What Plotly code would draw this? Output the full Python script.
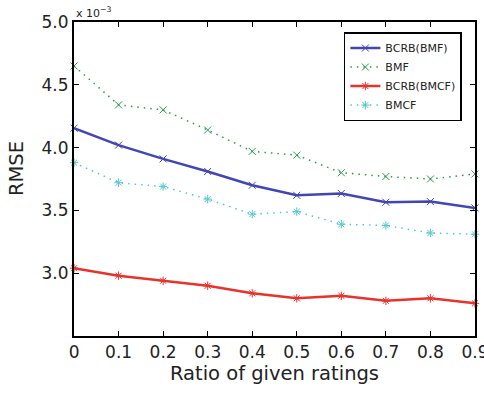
import plotly.graph_objects as go

ratios = [0, 0.1, 0.2, 0.3, 0.4, 0.5, 0.6, 0.7, 0.8, 0.9]
x_labels = ["0", "0.1", "0.2", "0.3", "0.4", "0.5", "0.6", "0.7", "0.8", "0.9"]
bcrb_bmf = [4.155, 4.02, 3.91, 3.81, 3.70, 3.62, 3.635, 3.565, 3.57, 3.52]
bmf = [4.65, 4.34, 4.30, 4.14, 3.97, 3.94, 3.80, 3.77, 3.75, 3.79]
bcrb_bmcf = [3.04, 2.98, 2.94, 2.90, 2.84, 2.80, 2.82, 2.78, 2.80, 2.76]
bmcf = [3.88, 3.72, 3.69, 3.59, 3.47, 3.49, 3.39, 3.38, 3.32, 3.31]
y_ticks = [3.0, 3.5, 4.0, 4.5, 5.0]

series = [
    ("BCRB(BMF)", bcrb_bmf, "#4146b4", "solid", 2.5, "x-thin-open"),
    ("BMF", bmf, "#2a9a4c", "1.5px,5px", 1.5, "x-thin-open"),
    ("BCRB(BMCF)", bcrb_bmcf, "#e8332b", "solid", 2.5, "asterisk-open"),
    ("BMCF", bmcf, "#52c9cc", "1.5px,5px", 1.5, "asterisk-open"),
]

fig = go.Figure()
for name, vals, color, dash, w, sym in series:
    fig.add_trace(go.Scatter(
        x=ratios, y=vals, name=name, mode="lines+markers",
        line=dict(color=color, dash=dash, width=w),
        marker=dict(symbol=sym, size=7, color=color, line=dict(color=color, width=1)),
        cliponaxis=False,
    ))

font = "DejaVu Sans, Verdana, sans-serif"
fig.update_layout(
    width=484, height=394,
    margin=dict(l=74, r=9, t=22, b=58, autoexpand=False),
    paper_bgcolor="white", plot_bgcolor="white",
    font=dict(family=font, color="#222222"),
    showlegend=True,
    legend=dict(x=0.673, y=0.968, xanchor="left", yanchor="top",
                bordercolor="black", borderwidth=1.5, bgcolor="white",
                font=dict(size=11, family=font), tracegroupgap=0),
)
fig.update_xaxes(
    range=[-0.0001, 0.9001], tickvals=ratios, ticktext=x_labels,
    ticks="inside", ticklen=5, tickwidth=1, tickcolor="black",
    showline=True, linecolor="black", linewidth=2, mirror="ticks",
    showgrid=False, zeroline=False, automargin=False,
    ticklabeloverflow="allow",
    tickfont=dict(size=17, family=font),
    title=dict(text="Ratio of given ratings", font=dict(size=19.5, family=font), standoff=4),
)
fig.update_yaxes(
    range=[2.5, 5.0], tickvals=y_ticks, tickformat=".1f",
    ticks="inside", ticklen=5, tickwidth=1, tickcolor="black",
    showline=True, linecolor="black", linewidth=2, mirror="ticks",
    showgrid=False, zeroline=False, automargin=False,
    tickfont=dict(size=17, family=font),
)
fig.add_annotation(
    xref="paper", yref="paper", x=-0.142, y=0.532, xanchor="center", yanchor="middle",
    text="RMSE", textangle=-90, showarrow=False, font=dict(size=19.5, family=font),
)
fig.add_annotation(
    xref="paper", yref="paper", x=0.0, y=1.0, xanchor="left", yanchor="bottom",
    text="x 10<sup>−3</sup>", showarrow=False, font=dict(size=11, family=font),
)
fig.write_html(
    "out.html",
    config={"displayModeBar": False},
    post_script="document.documentElement.style.margin='0';document.body.style.margin='0';document.body.style.overflow='hidden';",
)
